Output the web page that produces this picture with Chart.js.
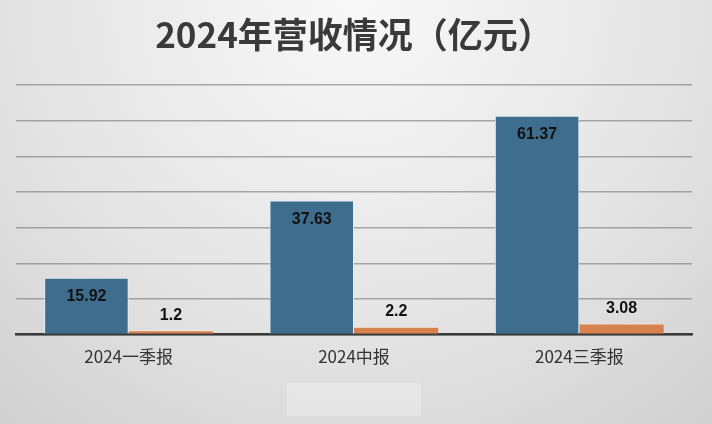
<!DOCTYPE html>
<html><head><meta charset="utf-8">
<script src="https://cdn.jsdelivr.net/npm/chart.js@4"></script>
<style>html,body{margin:0;padding:0;background:#e6e6e6;}#wrap{width:712px;height:424px;}</style>
</head><body><div id="wrap"><canvas id="c" width="712" height="424"></canvas></div>
<script>
const categories = ['2024一季报', '2024中报', '2024三季报'];
const seriesA = [15.92, 37.63, 61.37];
const seriesB = [1.2, 2.2, 3.08];
const yTicks = [0, 10, 20, 30, 40, 50, 60, 70];

const bgPlugin = {
  id: 'bg',
  beforeDraw(chart) {
    const ctx = chart.ctx, w = chart.width, h = chart.height;
    const g = ctx.createRadialGradient(w * 0.5, 0, 10, w * 0.5, 0, 720);
    g.addColorStop(0, '#f8f8f8');
    g.addColorStop(0.45, '#e4e4e4');
    g.addColorStop(1, '#c2c2c2');
    ctx.save();
    ctx.fillStyle = g;
    ctx.fillRect(0, 0, w, h);
    ctx.fillStyle = 'rgba(255,255,255,0.28)';
    ctx.fillRect(287, 383, 134, 33);
    ctx.restore();
  }
};

const labelPlugin = {
  id: 'vlabels',
  afterDatasetsDraw(chart) {
    const ctx = chart.ctx;
    ctx.save();
    ctx.font = 'bold 16px "Liberation Sans", Arial, sans-serif';
    ctx.fillStyle = '#111';
    ctx.textAlign = 'center';
    ctx.textBaseline = 'middle';
    chart.data.datasets.forEach((ds, di) => {
      chart.getDatasetMeta(di).data.forEach((bar, i) => {
        const v = ds.data[i];
        const y = di === 0 ? bar.y + 19 : bar.y - 15;
        ctx.fillText(String(v), bar.x, y);
      });
    });
    ctx.restore();
  }
};

new Chart(document.getElementById('c'), {
  type: 'bar',
  data: {
    labels: categories,
    datasets: [
      { label: 'A', data: seriesA, backgroundColor: '#3e6d8d', borderColor: 'rgba(225,240,250,0.9)', borderWidth: {top:1,left:1,right:1,bottom:0}, borderSkipped: 'bottom' },
      { label: 'B', data: seriesB, backgroundColor: '#d7814f', borderColor: 'rgba(255,235,220,0.9)', borderWidth: {top:1,left:0,right:0,bottom:0}, borderSkipped: 'bottom' }
    ]
  },
  options: {
    responsive: false,
    animation: false,
    devicePixelRatio: 1,
    layout: { padding: { left: 16, right: 20, top: 0, bottom: 45 } },
    datasets: { bar: { categoryPercentage: 0.75, barPercentage: 1.0 } },
    plugins: {
      legend: { display: false },
      tooltip: { enabled: false },
      title: {
        display: true,
        text: '2024年营收情况（亿元）',
        color: '#3a3a3a',
        font: { size: 35, weight: 'bold', family: '"Noto Sans CJK SC", sans-serif', lineHeight: 1.2 },
        padding: { top: 14, bottom: 29 }
      }
    },
    scales: {
      x: {
        grid: { display: false, drawTicks: false },
        border: { display: true, color: '#3a3a3a', width: 2.5 },
        ticks: { color: '#333', font: { size: 17, family: '"Noto Sans CJK SC", sans-serif' }, padding: 12 }
      },
      y: {
        min: yTicks[0], max: yTicks[yTicks.length - 1],
        afterBuildTicks(axis) { axis.ticks = yTicks.map(v => ({ value: v })); },
        ticks: { display: false },
        grid: { color: 'rgba(110,110,110,0.55)', lineWidth: 1.5, drawTicks: false },
        border: { display: false }
      }
    }
  },
  plugins: [bgPlugin, labelPlugin]
});
</script></body></html>
